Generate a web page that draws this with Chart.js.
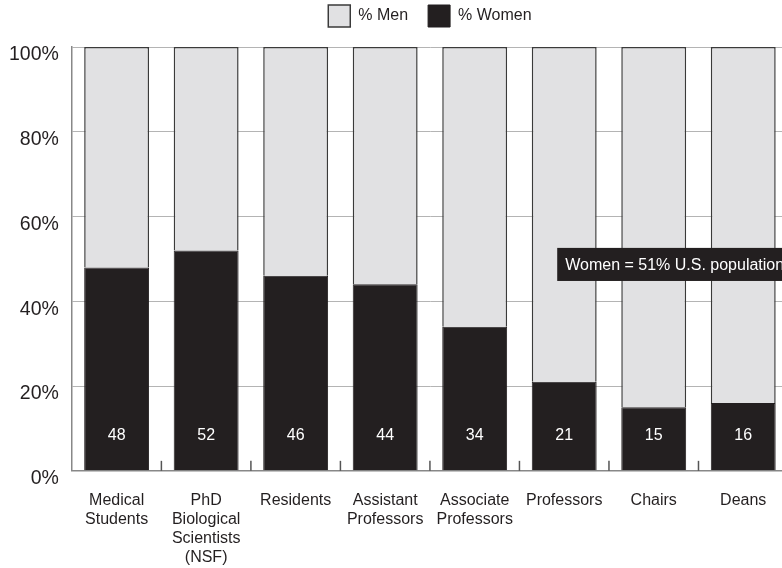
<!DOCTYPE html>
<html>
<head>
<meta charset="utf-8">
<script src="https://cdn.jsdelivr.net/npm/chart.js@4/dist/chart.umd.min.js"></script>
<style>
  html, body { margin: 0; padding: 0; background: #fff; overflow: hidden; }
  #wrap { position: relative; width: 782px; height: 568px; overflow: hidden; }
  #chart { position: absolute; left: -12px; top: -15px; }
</style>
</head>
<body>
<div id="wrap"><canvas id="chart" width="812" height="604"></canvas></div>
<script>
// Share of women and men at each stage of an academic medicine career
const categories = [
  ['Medical', 'Students'],
  ['PhD', 'Biological', 'Scientists', '(NSF)'],
  'Residents',
  ['Assistant', 'Professors'],
  ['Associate', 'Professors'],
  'Professors',
  'Chairs',
  'Deans'
];
const womenPct = [48, 52, 46, 44, 34, 21, 15, 16];
const menPct = [52, 48, 54, 56, 66, 79, 85, 84];
const yTickValues = [0, 20, 40, 60, 80, 100];
const calloutText = 'Women = 51% U.S. population';

const INK = '#231f20';
const MEN_FILL = '#e1e1e3';
const FONT = '"Liberation Sans", Arial, Helvetica, sans-serif';

// Extra breathing room between the legend row and the plot
const legendSpacing = {
  id: 'legendSpacing',
  beforeInit(chart) {
    const fit = chart.legend.fit;
    chart.legend.fit = function () {
      fit.call(this);
      this.height += 10;
    };
  }
};

// Small upward tick marks on the category axis, between neighbouring categories
const categoryTicks = {
  id: 'categoryTicks',
  afterDraw(chart) {
    const x = chart.scales.x, ctx = chart.ctx;
    const bottom = chart.chartArea.bottom;
    ctx.save();
    ctx.strokeStyle = '#555';
    ctx.lineWidth = 1.5;
    for (let i = 1; i < categories.length; i++) {
      const px = (x.getPixelForValue(i - 1) + x.getPixelForValue(i)) / 2;
      ctx.beginPath();
      ctx.moveTo(px, bottom);
      ctx.lineTo(px, bottom - 10);
      ctx.stroke();
    }
    ctx.restore();
  }
};

// Women's percentage printed in white near the foot of each bar
const valueLabels = {
  id: 'valueLabels',
  afterDatasetsDraw(chart) {
    const ctx = chart.ctx;
    const meta = chart.getDatasetMeta(0);
    ctx.save();
    ctx.fillStyle = '#fff';
    ctx.font = '16px ' + FONT;
    ctx.textAlign = 'center';
    ctx.textBaseline = 'middle';
    meta.data.forEach((bar, i) => {
      ctx.fillText(String(womenPct[i]), bar.x, bar.base - 35);
    });
    ctx.restore();
  }
};

// Dark callout box over the right-hand bars
const callout = {
  id: 'callout',
  afterDatasetsDraw(chart) {
    const ctx = chart.ctx, x = chart.scales.x, y = chart.scales.y;
    const left = x.getPixelForValue(5) - 7;
    const top = y.getPixelForValue(52.6);
    const bottom = y.getPixelForValue(44.8);
    ctx.save();
    ctx.font = '16px ' + FONT;
    const w = ctx.measureText(calloutText).width + 16;
    ctx.fillStyle = INK;
    ctx.fillRect(left, top, w, bottom - top);
    ctx.fillStyle = '#fff';
    ctx.textAlign = 'left';
    ctx.textBaseline = 'middle';
    ctx.fillText(calloutText, left + 8, (top + bottom) / 2 + 1);
    ctx.restore();
  }
};

new Chart(document.getElementById('chart'), {
  type: 'bar',
  data: {
    labels: categories,
    datasets: [
      {
        label: '% Women',
        data: womenPct,
        backgroundColor: INK,
        borderColor: INK,
        borderWidth: 1
      },
      {
        label: '% Men',
        data: menPct,
        backgroundColor: MEN_FILL,
        borderColor: '#3a3a3a',
        borderWidth: 1.5
      }
    ]
  },
  options: {
    responsive: false,
    animation: false,
    devicePixelRatio: 1,
    layout: { padding: { left: 8, right: 12, top: 0, bottom: 2 } },
    datasets: { bar: { categoryPercentage: 1, barPercentage: 0.725 } },
    plugins: {
      legend: {
        position: 'top',
        fullSize: false,
        reverse: true,
        labels: {
          boxWidth: 22,
          boxHeight: 22,
          padding: 20,
          color: INK,
          font: { family: FONT, size: 16 }
        }
      },
      tooltip: { enabled: false }
    },
    scales: {
      x: {
        stacked: true,
        grid: { drawOnChartArea: false, drawTicks: false },
        border: { color: '#888', width: 1.5 },
        ticks: {
          color: INK,
          padding: 20,
          maxRotation: 0,
          autoSkip: false,
          font: { family: FONT, size: 16, lineHeight: 1.19 }
        }
      },
      y: {
        stacked: true,
        min: 0,
        max: 100,
        afterBuildTicks(scale) {
          scale.ticks = yTickValues.map(v => ({ value: v }));
        },
        grid: { color: '#b4b4b4', lineWidth: 1, drawTicks: false },
        border: { color: '#888', width: 1.5 },
        ticks: {
          color: INK,
          padding: 13,
          labelOffset: 8,
          font: { family: FONT, size: 19.5 },
          callback: v => v + '%'
        }
      }
    }
  },
  plugins: [legendSpacing, categoryTicks, valueLabels, callout]
});
</script>
</body>
</html>
